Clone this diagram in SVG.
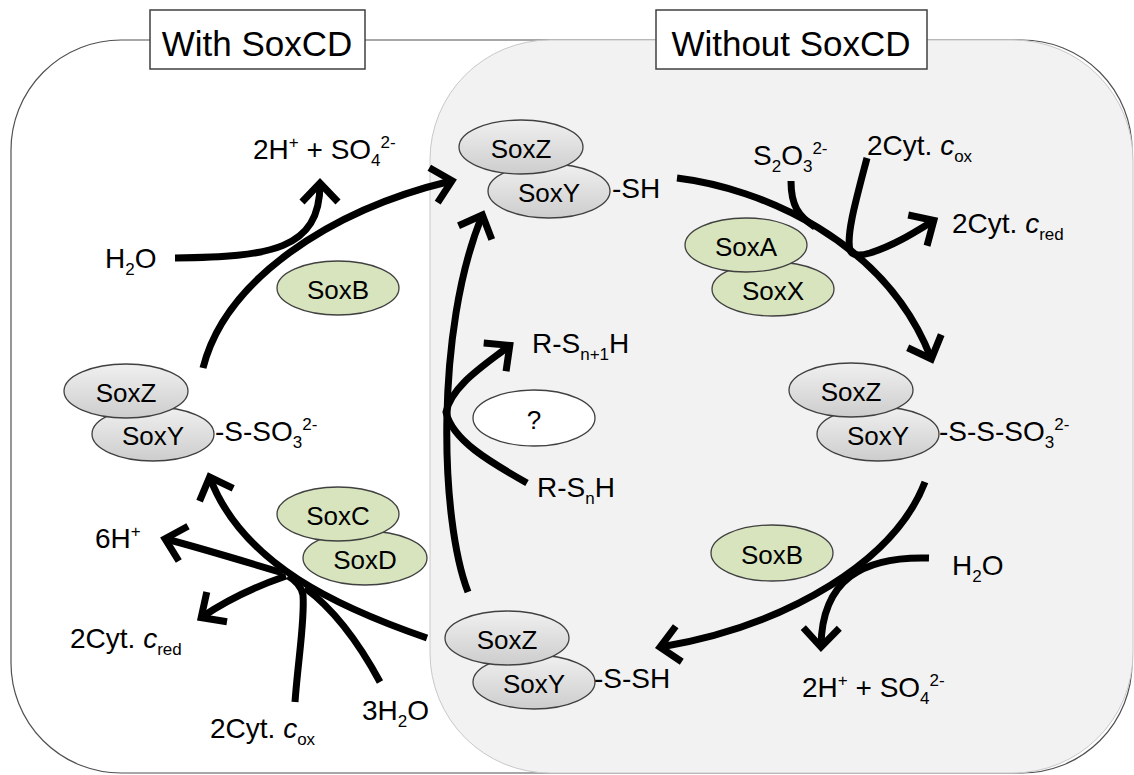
<svg xmlns="http://www.w3.org/2000/svg" width="1134" height="775" viewBox="0 0 1134 775">
  <defs>
    <style>
      text { font-family: "Liberation Sans", Arial, sans-serif; fill: #000; }
      .lbl { font-size: 28px; }
      .nm { font-size: 26px; text-anchor: middle; }
      .ttl { font-size: 35px; text-anchor: middle; }
      .sm { font-size: 17px; }
      .it { font-style: italic; }
      .flow { fill: none; stroke: #000; stroke-width: 7; }
      .arrow { marker-end: url(#head); }
      .sub { fill: url(#grey); stroke: #404040; stroke-width: 1.3; }
      .enz { fill: #d7e4bd; stroke: #404040; stroke-width: 1.3; }
      .unk { fill: #fff; stroke: #404040; stroke-width: 1.3; }
      .box { fill: #fff; stroke: #404040; stroke-width: 1.5; }
    </style>
    <linearGradient id="grey" x1="0" y1="0" x2="0" y2="1">
      <stop offset="0" stop-color="#f0f0f0"/>
      <stop offset="1" stop-color="#cdcdcd"/>
    </linearGradient>
    <marker id="head" markerUnits="userSpaceOnUse" viewBox="-30 -25 40 50" markerWidth="40" markerHeight="50" refX="0" refY="0" orient="auto">
      <path d="M-18,-18 L1,0 L-18,18" fill="none" stroke="#000" stroke-width="7"/>
    </marker>
  </defs>

  <!-- background panels -->
  <g id="frame">
    <rect x="11" y="40" width="1121" height="733" rx="110" ry="110" fill="#fff" stroke="#505050" stroke-width="1.2"/>
    <rect x="430" y="40" width="703" height="733" rx="120" ry="120" fill="#f2f2f2" stroke="#c8c8c8" stroke-width="1"/>
  </g>

  <!-- reaction arrows -->
  <g id="connectors">
    <!-- SoxAX step -->
    <path class="flow arrow" d="M677,178 C760,188 885,240 931,358"/>
    <path class="flow" d="M791,181 C791,205 798,216 815,227"/>
    <path class="flow arrow" d="M867,158 C856,200 846,235 850,250 Q853,258 870,253 C895,245 915,232 933,221"/>
    <!-- SoxB step (right) -->
    <path class="flow arrow" d="M925,482 C895,560 790,625 661,647"/>
    <path class="flow arrow" d="M929,558 C862,556 822,580 821,646"/>
    <!-- SoxCD step -->
    <path class="flow arrow" d="M427,638 C340,608 243,565 210,478"/>
    <path class="flow arrow" d="M283,573 C240,560 200,548 166,539"/>
    <path class="flow arrow" d="M286,576 C260,585 230,598 202,617"/>
    <path class="flow" d="M295,702 C298,660 305,620 303,595 C301,585 295,580 288,576"/>
    <path class="flow" d="M380,682 C360,645 335,610 305,588"/>
    <!-- SoxB step (left) -->
    <path class="flow arrow" d="M203,368 C225,280 330,210 451,181"/>
    <path class="flow arrow" d="M175,258 C270,257 320,250 320,184"/>
    <!-- sulfane transfer -->
    <path class="flow arrow" d="M468,592 C440,520 435,330 482,216"/>
    <path class="flow arrow" d="M527,483 C490,462 452,440 446,412 C452,385 485,365 509,346"/>
  </g>

  <!-- panel titles -->
  <g id="title-with">
    <rect class="box" x="150" y="10" width="215" height="59"/>
    <text class="ttl" x="257" y="56">With SoxCD</text>
  </g>
  <g id="title-without">
    <rect class="box" x="656" y="10" width="271" height="59"/>
    <text class="ttl" x="791" y="56">Without SoxCD</text>
  </g>

  <!-- SoxYZ-SH -->
  <g id="soxyz-sh">
    <ellipse class="sub" cx="549" cy="191" rx="61" ry="27"/>
    <ellipse class="sub" cx="521" cy="147" rx="62" ry="27"/>
    <text class="nm" x="521" y="158">SoxZ</text>
    <text class="nm" x="549" y="202">SoxY</text>
    <text class="lbl" x="612" y="198">-SH</text>
  </g>

  <!-- SoxYZ-S-S-SO3 -->
  <g id="soxyz-sss">
    <ellipse class="sub" cx="878" cy="434" rx="61" ry="27"/>
    <ellipse class="sub" cx="851" cy="390" rx="62" ry="27"/>
    <text class="nm" x="851" y="401">SoxZ</text>
    <text class="nm" x="878" y="445">SoxY</text>
    <text class="lbl" x="939" y="441">-S-S-SO<tspan class="sm" dy="7">3</tspan><tspan class="sm" dy="-18">2-</tspan></text>
  </g>

  <!-- SoxYZ-S-SH -->
  <g id="soxyz-ssh">
    <ellipse class="sub" cx="534" cy="682" rx="61" ry="27"/>
    <ellipse class="sub" cx="507" cy="638" rx="62" ry="27"/>
    <text class="nm" x="507" y="649">SoxZ</text>
    <text class="nm" x="534" y="693">SoxY</text>
    <text class="lbl" x="594" y="688">-S-SH</text>
  </g>

  <!-- SoxYZ-S-SO3 -->
  <g id="soxyz-sso3">
    <ellipse class="sub" cx="153" cy="434" rx="61" ry="27"/>
    <ellipse class="sub" cx="126" cy="391" rx="62" ry="27"/>
    <text class="nm" x="126" y="402">SoxZ</text>
    <text class="nm" x="153" y="445">SoxY</text>
    <text class="lbl" x="215" y="441">-S-SO<tspan class="sm" dy="7">3</tspan><tspan class="sm" dy="-18">2-</tspan></text>
  </g>

  <!-- enzymes -->
  <g id="soxax">
    <ellipse class="enz" cx="773" cy="289" rx="61" ry="27"/>
    <ellipse class="enz" cx="746" cy="245" rx="61" ry="27"/>
    <text class="nm" x="746" y="256">SoxA</text>
    <text class="nm" x="773" y="300">SoxX</text>
  </g>
  <g id="soxb-right">
    <ellipse class="enz" cx="772" cy="553" rx="61" ry="28"/>
    <text class="nm" x="772" y="564">SoxB</text>
  </g>
  <g id="soxb-left">
    <ellipse class="enz" cx="338" cy="288" rx="61" ry="27"/>
    <text class="nm" x="338" y="299">SoxB</text>
  </g>
  <g id="soxcd">
    <ellipse class="enz" cx="365" cy="558" rx="62" ry="27"/>
    <ellipse class="enz" cx="338" cy="514" rx="61" ry="27"/>
    <text class="nm" x="338" y="525">SoxC</text>
    <text class="nm" x="365" y="569">SoxD</text>
  </g>
  <g id="unknown">
    <ellipse class="unk" cx="534" cy="418" rx="61" ry="28"/>
    <text class="nm" x="534" y="429">?</text>
  </g>

  <!-- substrates and products -->
  <g id="s2o3">
    <text class="lbl" x="753" y="165">S<tspan class="sm" dy="7">2</tspan><tspan dy="-7">O</tspan><tspan class="sm" dy="7">3</tspan><tspan class="sm" dy="-18">2-</tspan></text>
  </g>
  <g id="cyt-ox-top">
    <text class="lbl" x="867" y="155">2Cyt. <tspan class="it">c</tspan><tspan class="sm" dy="7">ox</tspan></text>
  </g>
  <g id="cyt-red-right">
    <text class="lbl" x="952" y="233">2Cyt. <tspan class="it">c</tspan><tspan class="sm" dy="7">red</tspan></text>
  </g>
  <g id="h2o-right">
    <text class="lbl" x="952" y="575">H<tspan class="sm" dy="7">2</tspan><tspan dy="-7">O</tspan></text>
  </g>
  <g id="sulfate-right">
    <text class="lbl" x="802" y="697">2H<tspan class="sm" dy="-11">+</tspan><tspan dy="11"> + SO</tspan><tspan class="sm" dy="7">4</tspan><tspan class="sm" dy="-18">2-</tspan></text>
  </g>
  <g id="sulfate-left">
    <text class="lbl" x="253" y="159">2H<tspan class="sm" dy="-11">+</tspan><tspan dy="11"> + SO</tspan><tspan class="sm" dy="7">4</tspan><tspan class="sm" dy="-18">2-</tspan></text>
  </g>
  <g id="h2o-left">
    <text class="lbl" x="105" y="268">H<tspan class="sm" dy="7">2</tspan><tspan dy="-7">O</tspan></text>
  </g>
  <g id="rsn1h">
    <text class="lbl" x="532" y="353">R-S<tspan class="sm" dy="7">n+1</tspan><tspan dy="-7">H</tspan></text>
  </g>
  <g id="rsnh">
    <text class="lbl" x="537" y="497">R-S<tspan class="sm" dy="7">n</tspan><tspan dy="-7">H</tspan></text>
  </g>
  <g id="protons">
    <text class="lbl" x="95" y="548">6H<tspan class="sm" dy="-11">+</tspan></text>
  </g>
  <g id="cyt-red-left">
    <text class="lbl" x="70" y="648">2Cyt. <tspan class="it">c</tspan><tspan class="sm" dy="7">red</tspan></text>
  </g>
  <g id="cyt-ox-bottom">
    <text class="lbl" x="210" y="738">2Cyt. <tspan class="it">c</tspan><tspan class="sm" dy="7">ox</tspan></text>
  </g>
  <g id="water-3">
    <text class="lbl" x="362" y="720">3H<tspan class="sm" dy="7">2</tspan><tspan dy="-7">O</tspan></text>
  </g>
</svg>
